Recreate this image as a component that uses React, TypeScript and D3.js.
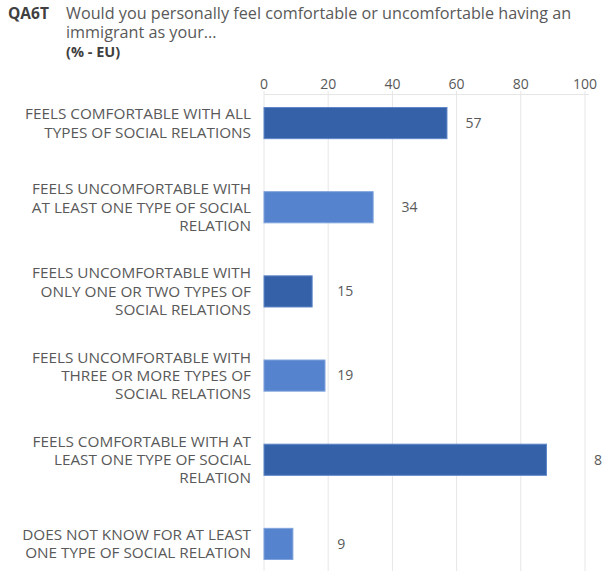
import { useEffect, useRef } from "react";
import * as d3 from "d3";

const categories = [
  ["FEELS COMFORTABLE WITH ALL", "TYPES OF SOCIAL RELATIONS"],
  ["FEELS UNCOMFORTABLE WITH", "AT LEAST ONE TYPE OF SOCIAL", "RELATION"],
  ["FEELS UNCOMFORTABLE WITH", "ONLY ONE OR TWO TYPES OF", "SOCIAL RELATIONS"],
  ["FEELS UNCOMFORTABLE WITH", "THREE OR MORE TYPES OF", "SOCIAL RELATIONS"],
  ["FEELS COMFORTABLE WITH AT", "LEAST ONE TYPE OF SOCIAL", "RELATION"],
  ["DOES NOT KNOW FOR AT LEAST", "ONE TYPE OF SOCIAL RELATION"],
];
const values = [57, 34, 15, 19, 88, 9];
const shades = ["dark", "light", "dark", "light", "dark", "light"];
const xTicks = [0, 20, 40, 60, 80, 100];

const titleCode = "QA6T";
const titleLines = [
  "Would you personally feel comfortable or uncomfortable having an",
  "immigrant as your...",
];
const titleUnit = "(% - EU)";

const FONT = "'Open Sans', 'Noto Sans', sans-serif";
const TEXT = "#595959";

const App = () => {
  const svgRef = useRef<SVGSVGElement | null>(null);

  useEffect(() => {
    const svg = d3.select(svgRef.current);
    svg.selectAll("*").remove();
    const height = 571;

    const x = d3.scaleLinear().domain([0, 100]).range([264, 585]);
    const y = d3
      .scaleBand<number>()
      .domain(d3.range(values.length))
      .range([81, 586])
      .paddingInner(0.63)
      .paddingOuter(0.315);

    // title
    const title = svg.append("g").attr("font-family", FONT);
    title
      .append("text")
      .attr("x", 8)
      .attr("y", 19)
      .attr("font-size", 15.5)
      .attr("font-weight", "bold")
      .attr("fill", "#404040")
      .text(titleCode);
    titleLines.forEach((t, i) => {
      title
        .append("text")
        .attr("x", 66)
        .attr("y", 19 + i * 18.5)
        .attr("font-size", 16.2)
        .attr("fill", TEXT)
        .text(t);
    });
    title
      .append("text")
      .attr("x", 66)
      .attr("y", 57)
      .attr("font-size", 14.5)
      .attr("font-weight", "bold")
      .attr("fill", "#404040")
      .text(titleUnit);

    // grid + top axis
    svg
      .append("g")
      .selectAll("line")
      .data(xTicks)
      .join("line")
      .attr("x1", (d) => x(d))
      .attr("x2", (d) => x(d))
      .attr("y1", 91)
      .attr("y2", height)
      .attr("stroke", "#e6e6e6")
      .attr("stroke-width", 1);
    svg
      .append("line")
      .attr("x1", x(0))
      .attr("x2", x(100) + 4)
      .attr("y1", 94.5)
      .attr("y2", 94.5)
      .attr("stroke", "#e6e6e6");

    svg
      .append("g")
      .selectAll("text")
      .data(xTicks)
      .join("text")
      .attr("x", (d) => x(d))
      .attr("y", 89)
      .attr("text-anchor", "middle")
      .attr("font-family", FONT)
      .attr("font-size", 14)
      .attr("fill", TEXT)
      .text((d) => d);

    // bars
    svg
      .append("g")
      .selectAll("rect")
      .data(values)
      .join("rect")
      .attr("x", x(0))
      .attr("y", (_, i) => y(i) ?? 0)
      .attr("width", (d) => x(d) - x(0))
      .attr("height", y.bandwidth())
      .attr("fill", (_, i) => (shades[i] === "dark" ? "#3561a9" : "#5583cd"))
      .attr("stroke", (_, i) => (shades[i] === "dark" ? "#5f86c8" : "#7fa2dc"))
      .attr("stroke-width", 1);

    // value labels sit just past the next gridline
    svg
      .append("g")
      .selectAll("text")
      .data(values)
      .join("text")
      .attr("x", (d) => x(Math.max(20, Math.ceil(d / 20) * 20)) + 9)
      .attr("y", (_, i) => (y(i) ?? 0) + y.bandwidth() / 2)
      .attr("dy", "0.35em")
      .attr("font-family", FONT)
      .attr("font-size", 14)
      .attr("fill", TEXT)
      .text((d) => d);

    // category labels
    const cat = svg.append("g").attr("font-family", FONT).attr("font-size", 15.3);
    categories.forEach((lines, i) => {
      const cy = (y(i) ?? 0) + y.bandwidth() / 2;
      const lh = 18.3;
      const start = cy - ((lines.length - 1) * lh) / 2;
      lines.forEach((t, j) => {
        cat
          .append("text")
          .attr("x", 251)
          .attr("y", start + j * lh)
          .attr("dy", "0.35em")
          .attr("text-anchor", "end")
          .attr("fill", TEXT)
          .text(t);
      });
    });
  }, []);

  return (
    <svg
      ref={svgRef}
      width={602}
      height={571}
      style={{ position: "absolute", left: 0, top: 0, background: "#fff" }}
    />
  );
};

export default App;
